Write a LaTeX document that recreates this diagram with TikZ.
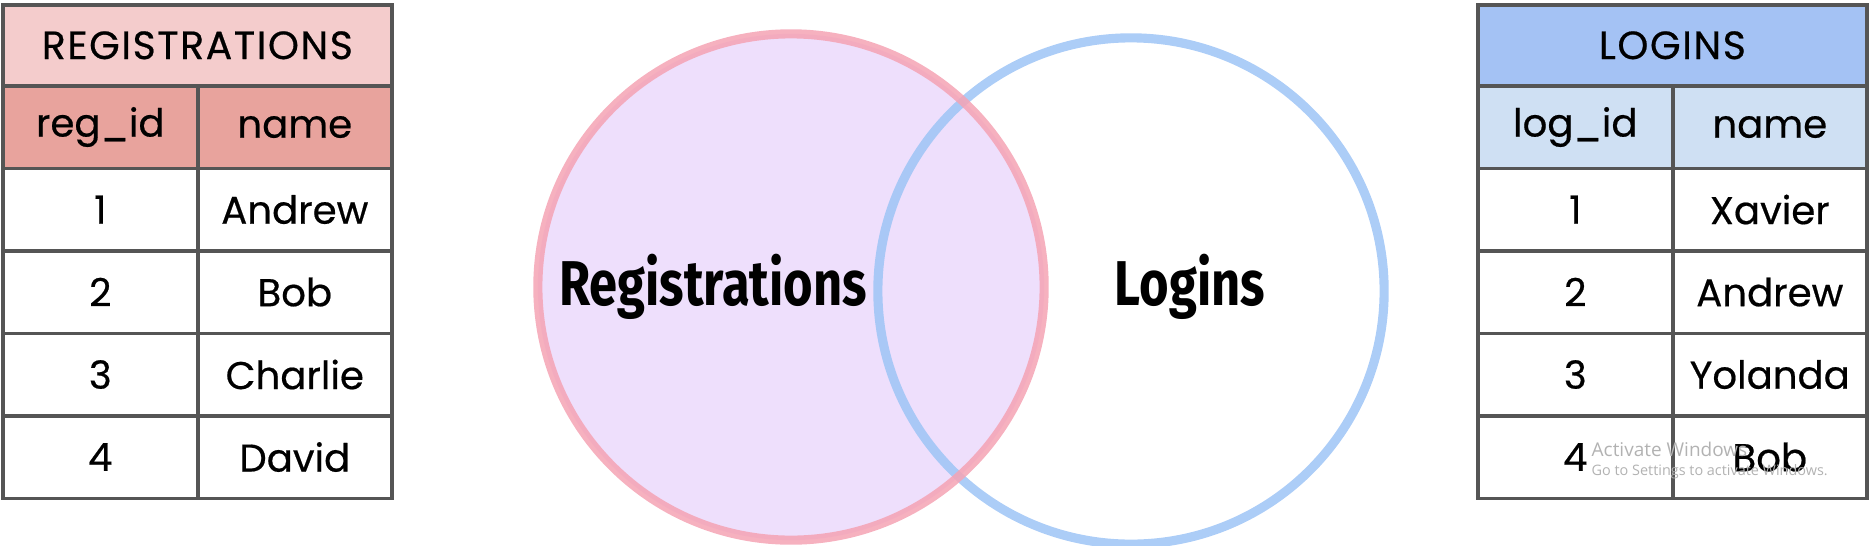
\documentclass[tikz,border=0pt]{standalone}
\usepackage{fontspec}
\setmainfont{Poppins}
\newfontfamily\tabfont[FakeBold=0.5]{Poppins}
\newfontfamily\vennfont[FakeStretch=0.8]{Fira Sans}
\newfontfamily\winfont{Open Sans}
\definecolor{cellgray}{HTML}{555555}
\definecolor{regtitle}{HTML}{F4CCCC}
\definecolor{reghead}{HTML}{E8A39D}
\definecolor{logtitle}{HTML}{A4C2F4}
\definecolor{loghead}{HTML}{CFE0F3}
\definecolor{regring}{HTML}{F5A3B4}
\definecolor{regfill}{HTML}{EEDFFC}
\definecolor{logring}{HTML}{9DC4F6}
\tikzset{
    cell/.style={draw=cellgray, line width=1pt, inner sep=0pt, anchor=north west,
        minimum height=0.825cm, font=\tabfont\fontsize{11}{12}\selectfont},
    idcell/.style={cell, minimum width=1.95cm},
    namecell/.style={cell, minimum width=1.94cm},
    titlecell/.style={cell, minimum width=3.89cm, minimum height=0.81cm,
        font=\tabfont\fontsize{11.2}{12}\selectfont\addfontfeature{LetterSpace=4}},
    ring/.style={line width=2.6pt, opacity=0.85},
    vennlabel/.style={inner sep=0pt, font=\vennfont\bfseries\fontsize{18}{20}\selectfont}
}
\begin{document}
\begin{tikzpicture}[x=0.01cm, y=-0.01cm]
    \useasboundingbox (0,0) rectangle (1869,545);
    % Venn diagram
    \fill[regfill] (791,287) circle [radius=2.53cm];
    \draw[ring, logring] (1131,291) circle [radius=2.53cm];
    \draw[ring, regring] (791,287) circle [radius=2.53cm];
    \node[vennlabel] (reglabel) at (713,287) {Registrations};
    \node[vennlabel] (loglabel) at (1190,287) {Logins};

    % Registrations table
    \node[titlecell, fill=regtitle] (regtitle) at (1,3) {REGISTRATIONS};
    \node[idcell, fill=reghead] (reghead-id) at (1,84) {reg\_id};
    \node[namecell, fill=reghead] (reghead-name) at (196,84) {name};
    \foreach \id/\nm [count=\r] in {1/Andrew, 2/Bob, 3/Charlie, 4/David} {
        \node[idcell] (reg-id-\r) at (1,{84+82.5*\r}) {\id};
        \node[namecell] (reg-name-\r) at (196,{84+82.5*\r}) {\nm};
    }

    % Logins table
    \node[titlecell, fill=logtitle] (logtitle) at (1476,3) {LOGINS};
    \node[idcell, fill=loghead] (loghead-id) at (1476,84) {log\_id};
    \node[namecell, fill=loghead] (loghead-name) at (1671,84) {name};
    \foreach \id/\nm [count=\r] in {1/Xavier, 2/Andrew, 3/Yolanda, 4/Bob} {
        \node[idcell] (log-id-\r) at (1476,{84+82.5*\r}) {\id};
        \node[namecell] (log-name-\r) at (1671,{84+82.5*\r}) {\nm};
    }

    % watermark
    \node[anchor=base west, inner sep=0pt, text=black!30, font=\winfont\fontsize{5.4}{6}\selectfont] (wm1) at (1591,456) {Activate Windows};
    \node[anchor=base west, inner sep=0pt, text=black!30, font=\winfont\fontsize{4.1}{5}\selectfont] (wm2) at (1591,475) {Go to Settings to activate Windows.};
\end{tikzpicture}
\end{document}
